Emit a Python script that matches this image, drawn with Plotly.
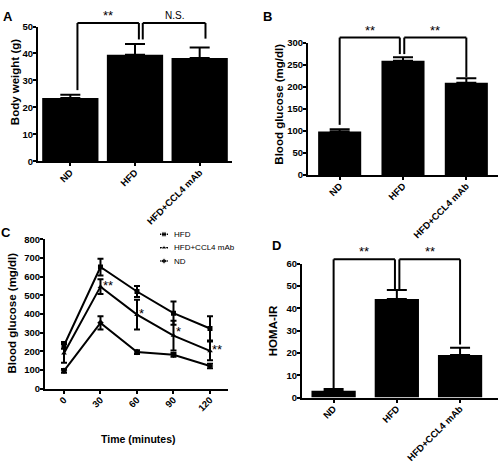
import plotly.graph_objects as go

# ---------------- data ----------------
cats = ["ND", "HFD", "HFD+CCL4 mAb"]

# Panel A: body weight (g)
bw_mean = [23.5, 39.5, 38.3]
bw_err = [1.2, 4.0, 3.9]

# Panel B: blood glucose (mg/dl)
bg_mean = [99, 260, 210]
bg_err = [5, 8, 10]

# Panel D: HOMA-IR
homa_mean = [3.1, 44.2, 19.1]
homa_err = [0.7, 4.0, 3.2]

# Panel C: glucose tolerance test
time_min = [0, 30, 60, 90, 120]
time_ticks = ["0", "30", "60", "90", "120"]
series_names = ["HFD", "HFD+CCL4 mAb", "ND"]
hfd_gtt = [232, 652, 521, 405, 323]
hfd_gtt_err = [18, 45, 30, 62, 65]
ccl4_gtt = [190, 547, 397, 285, 203]
ccl4_gtt_err = [50, 40, 80, 80, 50]
nd_gtt = [96, 353, 197, 182, 122]
nd_gtt_err = [10, 35, 10, 10, 12]

# significance brackets: (left leg x, right leg x, left leg bottom, right leg bottom, label)
sig_A = [(0.11, 1.06, 26.4, 45.2, "**"), (1.12, 2.09, 45.2, 45.5, "N.S.")]
sig_A_top = 51.3
sig_B = [(0.0, 0.95, 114, 275, "**"), (1.02, 2.0, 275, 223, "**")]
sig_B_top = 312.6
sig_D = [(0.0, 0.97, 4.1, 48.3, "**"), (1.04, 2.0, 48.3, 23.8, "**")]
sig_D_top = 62.0

# C significance labels (time, glucose, text)
sig_C = [(36, 570, "**"), (64, 420, "*"), (94.5, 322, "*"), (126, 228, "**")]

FONT = "Liberation Sans"
BLACK = "black"

fig = go.Figure()

def bar_panel(xa, ya, means, errs, width):
    fig.add_trace(go.Bar(
        x=cats, y=means, width=width, marker=dict(color=BLACK, line=dict(width=0)),
        error_y=dict(type="data", array=errs, arrayminus=[0] * len(errs), symmetric=False,
                     color=BLACK, thickness=2, width=10),
        xaxis=xa, yaxis=ya, showlegend=False))

bar_panel("x", "y", bw_mean, bw_err, 0.87)
bar_panel("x2", "y2", bg_mean, bg_err, 0.68)
bar_panel("x4", "y4", homa_mean, homa_err, 0.70)

symbols = ["square", "triangle-up", "diamond"]
# Panel C lines
for name, ys, es, sym in zip(series_names, [hfd_gtt, ccl4_gtt, nd_gtt],
                             [hfd_gtt_err, ccl4_gtt_err, nd_gtt_err], symbols):
    fig.add_trace(go.Scatter(
        x=time_min, y=ys, name=name, mode="lines+markers", showlegend=False,
        line=dict(color=BLACK, width=2),
        marker=dict(color=BLACK, symbol=sym, size=5),
        error_y=dict(type="data", array=es, color=BLACK, thickness=2, width=3),
        xaxis="x3", yaxis="y3"))

shapes = []
annotations = []

# compact key for panel C (drawn on its own small axis)
for k, (name, sym) in enumerate(zip(series_names, symbols)):
    row = len(series_names) - k - 0.5
    fig.add_trace(go.Scatter(
        x=[5, 9, 13], y=[row] * 3, mode="lines+markers", showlegend=False, hoverinfo="skip",
        line=dict(color=BLACK, width=1.5),
        marker=dict(color=BLACK, symbol=sym, size=[0, 5, 0]),
        xaxis="x5", yaxis="y5"))
    annotations.append(dict(text=name, xref="x5", yref="y5", x=17, y=row, xanchor="left",
                            yanchor="middle", showarrow=False,
                            font=dict(family=FONT, size=8, color=BLACK)))

def brackets(xa, ya, sig, ytop, ymax, xmin, xmax):
    span = xmax - xmin
    xd = lambda v: (v - xmin) / span
    yd = lambda v: v / ymax
    for (x0, x1, yb0, yb1, lab) in sig:
        for (a, b, c, d) in [(x0, yb0, x0, ytop), (x0, ytop, x1, ytop), (x1, ytop, x1, yb1)]:
            shapes.append(dict(type="line", xref=xa + " domain", yref=ya + " domain",
                               x0=xd(a), y0=yd(b), x1=xd(c), y1=yd(d),
                               line=dict(color=BLACK, width=2)))
        annotations.append(dict(text=lab, xref=xa + " domain", yref=ya + " domain",
                                x=xd((x0 + x1) / 2), y=yd(ytop), xanchor="center", yanchor="bottom",
                                yshift=-2 if lab != "N.S." else 0,
                                showarrow=False,
                                font=dict(family=FONT, size=(13 if lab != "N.S." else 10), color=BLACK)))

brackets("x", "y", sig_A, sig_A_top, 50, -0.5, 2.5)
brackets("x2", "y2", sig_B, sig_B_top, 300, -0.5, 2.5)
brackets("x4", "y4", sig_D, sig_D_top, 60, -0.5, 2.6)

for (t, g, lab) in sig_C:
    annotations.append(dict(text=lab, xref="x3", yref="y3", x=t, y=g, showarrow=False,
                            xanchor="center", yanchor="middle", yshift=-3,
                            font=dict(family=FONT, size=13, color=BLACK)))

# panel letters & axis titles
def paper_text(txt, px, py, size, angle=0, bold=True):
    annotations.append(dict(text=txt, xref="paper", yref="paper", x=px / 500, y=1 - py / 469,
                            xanchor="center", yanchor="middle", showarrow=False, textangle=angle,
                            font=dict(family=FONT, size=size, color=BLACK,
                                      weight="bold" if bold else "normal")))

paper_text("A", 8, 11, 13)
paper_text("B", 267, 11, 13)
paper_text("C", 6, 232, 13)
paper_text("D", 276, 245, 13)
paper_text("Body weight (g)", 15, 78, 11.5, -90)
paper_text("Blood glucose (mg/dl)", 279, 101, 11.5, -90)
paper_text("Blood glucose (mg/dl)", 12, 315, 11.5, -90)
paper_text("HOMA-IR", 273, 333, 11.5, -90)
paper_text("Time (minutes)", 138, 443, 10.5)

tickfont = dict(family=FONT, size=9.5, color=BLACK, weight="bold")
ax = dict(showline=True, linecolor=BLACK, linewidth=2, ticks="outside", tickcolor=BLACK,
          tickwidth=2, ticklen=3, showgrid=False, zeroline=False, tickfont=tickfont, fixedrange=True)
yax = dict(ax, ticklabelstandoff=-2)
xcat = dict(ax, type="category", tickangle=-45, ticklabelstandoff=-3)

layout = dict(
    width=500, height=469, margin=dict(l=0, r=0, t=0, b=0),
    paper_bgcolor="white", plot_bgcolor="white", bargap=0.2,
    shapes=shapes, annotations=annotations,
    xaxis=dict(xcat, domain=[38 / 500, 232 / 500], anchor="y", range=[-0.5, 2.5]),
    yaxis=dict(yax, domain=[1 - 159 / 469, 1 - 21 / 469], anchor="x", range=[0, 50],
               tickvals=[0, 10, 20, 30, 40, 50]),
    xaxis2=dict(xcat, domain=[308 / 500, 498 / 500], anchor="y2", range=[-0.5, 2.5]),
    yaxis2=dict(yax, domain=[1 - 173 / 469, 1 - 38 / 469], anchor="x2", range=[0, 300],
                tickvals=[0, 50, 100, 150, 200, 250, 300]),
    xaxis3=dict(ax, domain=[45 / 500, 228 / 500], anchor="y3", range=[-15.6, 134.8],
                tickvals=time_min, ticktext=time_ticks, tickangle=-45, ticklabelstandoff=-3),
    yaxis3=dict(yax, domain=[1 - 392 / 469, 1 - 239 / 469], anchor="x3", range=[0, 800],
                tickvals=list(range(0, 801, 100))),
    xaxis4=dict(xcat, domain=[302 / 500, 498 / 500], anchor="y4", range=[-0.5, 2.6]),
    yaxis4=dict(yax, domain=[1 - 401 / 469, 1 - 264 / 469], anchor="x4", range=[0, 60],
                tickvals=[0, 10, 20, 30, 40, 50, 60]),
    xaxis5=dict(domain=[155 / 500, 245 / 500], anchor="y5", range=[0, 90], visible=False,
                fixedrange=True),
    yaxis5=dict(domain=[1 - 268 / 469, 1 - 227 / 469], anchor="x5", range=[0, 3], visible=False,
                fixedrange=True),
    showlegend=False,
)
fig.update_layout(**layout)
fig.write_html("out.html", config={"displayModeBar": False},
               post_script="document.body.style.margin='0';document.body.style.padding='0';")
